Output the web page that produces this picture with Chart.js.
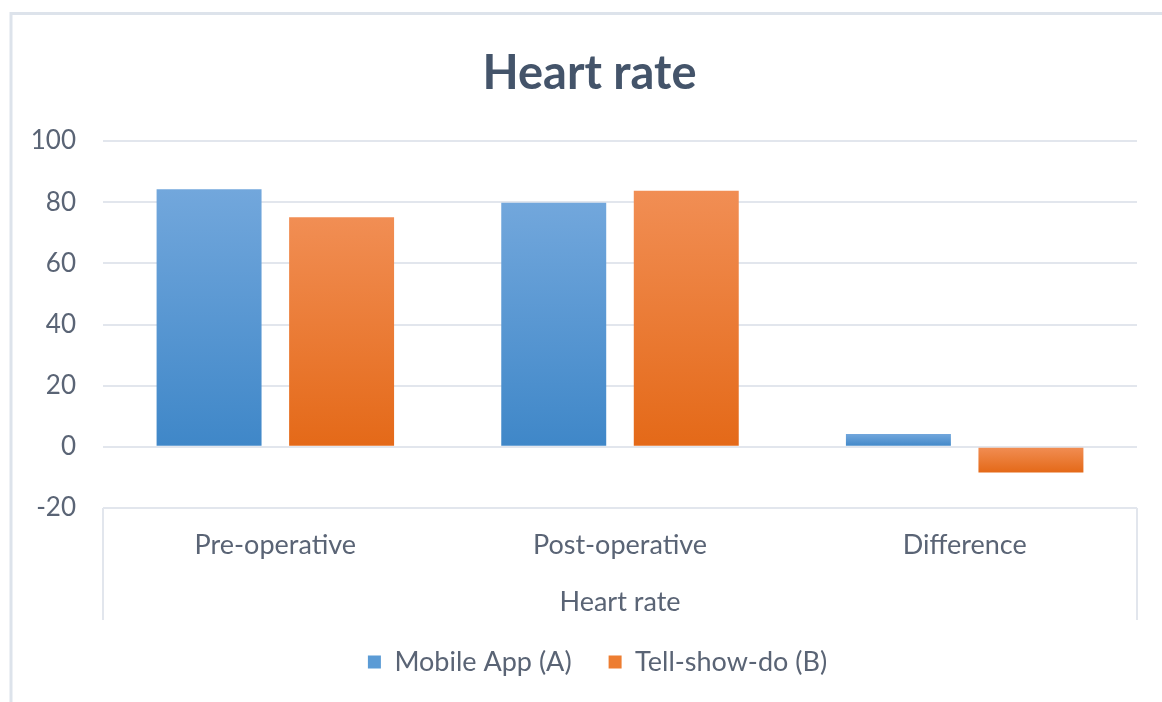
<!DOCTYPE html>
<html>
<head>
<meta charset="utf-8">
<script src="https://cdn.jsdelivr.net/npm/chart.js@4"></script>
<style>
  html, body { margin: 0; padding: 0; background: #fff; }
  #wrap { position: relative; width: 1162px; height: 702px; }
</style>
</head>
<body>
<div id="wrap"><canvas id="myChart"></canvas></div>
<script>
// chart values
let categories = ['Pre-operative', 'Post-operative', 'Difference'];
let mobileApp = [84.2, 79.8, 4.2];
let tellShowDo = [75.1, 83.7, -8.4];
let seriesNames = ['Mobile App (A)', 'Tell-show-do (B)'];
let yMin = -20;
let yMax = 100;
let yStep = 20;

let textColor = '#5A6475';
let gridColor = '#E2E6ED';
let fontFamily = 'Lato, sans-serif';

// vertical gradient for each bar, light on top, dark at the bottom
function barFill(top, bottom) {
    return function (ctx) {
        let chart = ctx.chart;
        let y = chart.scales.y;
        if (!y || ctx.raw === undefined) return bottom;
        let p1 = y.getPixelForValue(ctx.raw);
        let p0 = y.getPixelForValue(0);
        // scales are not laid out yet on the very first pass
        if (!isFinite(p0) || !isFinite(p1) || p0 === p1) return bottom;
        let g = chart.ctx.createLinearGradient(0, Math.min(p0, p1), 0, Math.max(p0, p1));
        g.addColorStop(0, top);
        g.addColorStop(1, bottom);
        return g;
    };
}

// outer frame + the box under the category axis
let frame = {
    id: 'frame',
    afterLayout(chart) {
        // y labels overflow the narrow scale box, don't let them get clipped
        chart.scales.y.left = 0;
        // legend sits a bit right of centre in the original
        chart.legend.left += 8;
        chart.legend.right += 8;
    },
    beforeDraw(chart) {
        let c = chart.ctx;
        c.save();
        c.strokeStyle = '#DDE3EB';
        c.lineWidth = 3;
        c.beginPath();
        c.moveTo(11, 800);
        c.lineTo(11, 13.5);
        c.lineTo(1300, 13.5);
        c.stroke();
        c.restore();
    },
    afterDraw(chart) {
        let a = chart.chartArea;
        let c = chart.ctx;
        c.save();
        c.strokeStyle = gridColor;
        c.lineWidth = 2;
        c.beginPath();
        c.moveTo(a.left, a.bottom);
        c.lineTo(a.left, a.bottom + 112);
        c.moveTo(a.right, a.bottom);
        c.lineTo(a.right, a.bottom + 112);
        c.stroke();
        c.restore();
    }
};

let ctx = document.getElementById('myChart').getContext('2d');
let chart = new Chart(ctx, {
    type: 'bar',
    data: {
        labels: categories,
        datasets: [{
            label: seriesNames[0],
            data: mobileApp,
            backgroundColor: barFill('#72A7DC', '#3F87C8'),
            legendColor: '#5B9BD5'
        }, {
            label: seriesNames[1],
            data: tellShowDo,
            backgroundColor: barFill('#F18E54', '#E46918'),
            legendColor: '#ED7D31'
        }]
    },
    options: {
        responsive: true,
        maintainAspectRatio: false,
        animation: false,
        categoryPercentage: 0.769,
        barPercentage: 0.792,
        layout: { padding: { left: 42, right: 25, top: 0, bottom: 16.5 } },
        font: { family: fontFamily, size: 27 },
        plugins: {
            title: {
                display: true,
                text: 'Heart rate',
                color: '#44546A',
                font: { family: fontFamily, size: 47, weight: 'bold' },
                padding: { top: 45.8, bottom: 38.8 }
            },
            legend: {
                position: 'bottom',
                labels: {
                    color: textColor,
                    font: { family: fontFamily, size: 27 },
                    boxWidth: 13,
                    boxHeight: 13,
                    padding: 37,
                    generateLabels(chart) {
                        let items = Chart.defaults.plugins.legend.labels.generateLabels(chart);
                        items.forEach(function (it) {
                            let ds = chart.data.datasets[it.datasetIndex];
                            it.fillStyle = ds.legendColor;
                            it.strokeStyle = ds.legendColor;
                            it.lineWidth = 0;
                        });
                        return items;
                    }
                }
            },
            tooltip: { enabled: false }
        },
        scales: {
            x: {
                grid: { display: false, drawTicks: false },
                border: { display: false },
                ticks: {
                    color: textColor,
                    font: { family: fontFamily, size: 27 },
                    padding: 20.8
                },
                title: {
                    display: true,
                    text: 'Heart rate',
                    color: textColor,
                    font: { family: fontFamily, size: 27 },
                    padding: { top: 3.8, bottom: -6.7 }
                }
            },
            y: {
                min: yMin,
                max: yMax,
                grid: { color: gridColor, lineWidth: 2, drawTicks: false },
                border: { display: false },
                ticks: {
                    stepSize: yStep,
                    color: textColor,
                    font: { family: fontFamily, size: 26 },
                    padding: 27
                },
                afterFit(scale) {
                    scale.width = 61;
                }
            }
        }
    },
    plugins: [frame]
});
</script>
</body>
</html>
